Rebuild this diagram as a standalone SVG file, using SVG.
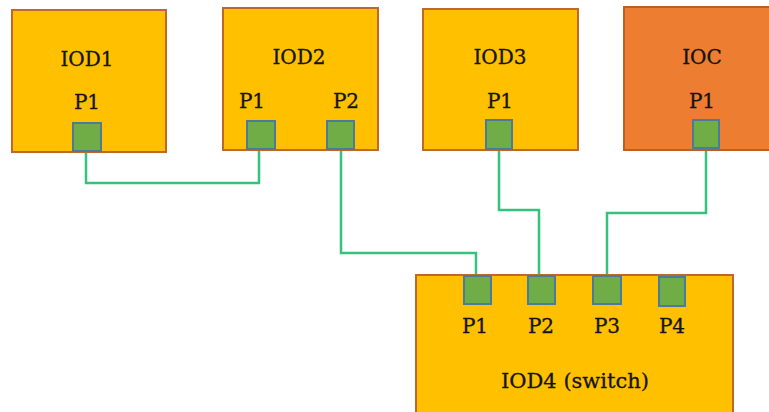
<svg xmlns="http://www.w3.org/2000/svg" width="769" height="412" viewBox="0 0 769 412">
<style>
.box{fill:#FFC000;stroke:#C0672C;stroke-width:2}
.ioc{fill:#ED7D31;stroke:#B9602A;stroke-width:2}
.port{fill:#70AD47;stroke:#4A7A9C;stroke-width:2}
text{font-family:"DejaVu Serif","Liberation Serif",serif;font-size:20px;fill:#141414;stroke:#141414;stroke-width:0.3;text-anchor:middle}
.big{font-size:21px}
.w{fill:none;stroke:#35C27C;stroke-width:2.5}
</style>
<rect width="769" height="412" fill="#ffffff"/>
<g id="connectors">
<polyline class="w" points="86,151 86,183 259,183 259,149"/>
<polyline class="w" points="341,149 341,253 476,253 476,276"/>
<polyline class="w" points="499,148 499,210 539,210 539,276"/>
<polyline class="w" points="706,148 706,213 607,213 607,276"/>
</g>
<g id="IOD1">
<rect class="box" x="12" y="10" width="154" height="142"/>
<text x="87" y="66">IOD1</text>
<text x="87" y="109">P1</text>
<rect class="port" x="73" y="123" width="28" height="28"/>
</g>
<g id="IOD2">
<rect class="box" x="223" y="8" width="155" height="142"/>
<text x="299" y="64">IOD2</text>
<text x="252" y="108">P1</text>
<text x="346" y="108">P2</text>
<rect class="port" x="247" y="121" width="28" height="28"/>
<rect class="port" x="327" y="121" width="27" height="28"/>
</g>
<g id="IOD3">
<rect class="box" x="423" y="9" width="155" height="141"/>
<text x="500" y="64">IOD3</text>
<text x="500" y="108">P1</text>
<rect class="port" x="486" y="120" width="26" height="29"/>
</g>
<g id="IOC">
<rect class="ioc" x="624" y="7" width="150" height="143"/>
<text x="702" y="64">IOC</text>
<text x="702" y="108">P1</text>
<rect class="port" x="693" y="120" width="26" height="28"/>
</g>
<g id="IOD4">
<rect class="box" x="416" y="275" width="317" height="145"/>
<rect class="port" x="464" y="276" width="27" height="28"/>
<rect class="port" x="528" y="276" width="27" height="28"/>
<rect class="port" x="593" y="276" width="28" height="28"/>
<rect class="port" x="659" y="277" width="26" height="29"/>
<text x="475" y="333">P1</text>
<text x="541" y="333">P2</text>
<text x="607" y="333">P3</text>
<text x="672" y="333">P4</text>
<text class="big" x="575" y="388">IOD4 (switch)</text>
</g>
</svg>
